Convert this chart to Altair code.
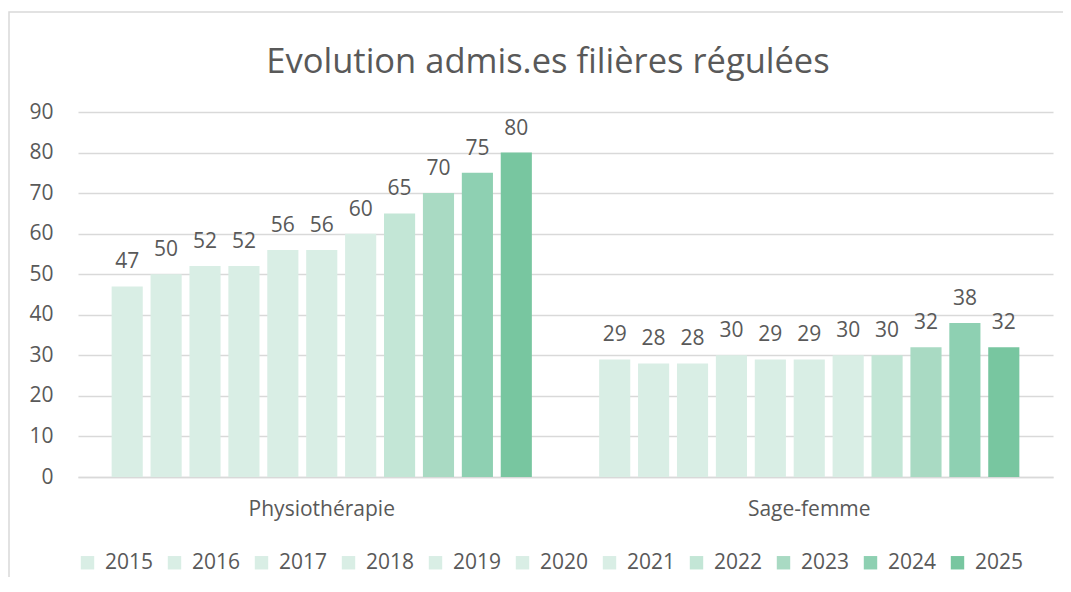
import altair as alt
import pandas as pd

title_text = "Evolution admis.es filières régulées"
categories = ["Physiothérapie", "Sage-femme"]
years = ["2015", "2016", "2017", "2018", "2019", "2020", "2021", "2022", "2023", "2024", "2025"]
physio = [47, 50, 52, 52, 56, 56, 60, 65, 70, 75, 80]
sage = [29, 28, 28, 30, 29, 29, 30, 30, 32, 38, 32]
colors = ["#D9EEE5", "#D9EEE5", "#D9EEE5", "#D9EEE5", "#D9EEE5", "#D9EEE5", "#D9EEE5",
          "#C3E6D6", "#A9DAC3", "#8ED0B2", "#78C6A0"]
y_ticks = [0, 10, 20, 30, 40, 50, 60, 70, 80, 90]

rows = []
for cat, vals in zip(categories, [physio, sage]):
    for yr, v in zip(years, vals):
        rows.append({"filiere": cat, "annee": yr, "admis": v})
df = pd.DataFrame(rows)

FONT = "Open Sans"
GRAY = "#595959"

x = alt.X("filiere:N", sort=categories, title=None,
          scale=alt.Scale(paddingInner=0.138, paddingOuter=0.069),
          axis=alt.Axis(labelAngle=0, ticks=False, domainColor="#D9D9D9", domainWidth=1.5,
                        labelFontSize=21, labelColor=GRAY, labelPadding=21, labelFont=FONT))
xo = alt.XOffset("annee:N", sort=years, scale=alt.Scale(paddingInner=0.2, paddingOuter=0))
y = alt.Y("admis:Q", title=None, scale=alt.Scale(domain=[0, 90]),
          axis=alt.Axis(values=y_ticks, domain=False, ticks=False, gridColor="#D9D9D9",
                        gridWidth=1.5, labelFontSize=21, labelColor=GRAY, labelPadding=25,
                        labelFont=FONT))
color = alt.Color("annee:N", sort=years, scale=alt.Scale(domain=years, range=colors),
                  legend=alt.Legend(title=None, orient="none", direction="horizontal",
                                    legendX=-1, legendY=440, columns=11,
                                    symbolType="square", symbolSize=180, symbolStrokeWidth=0,
                                    labelFontSize=21, labelColor=GRAY, labelFont=FONT,
                                    labelOffset=7, columnPadding=10))

bars = alt.Chart(df).mark_bar().encode(x=x, xOffset=xo, y=y, color=color)
labels = alt.Chart(df).mark_text(baseline="alphabetic", dy=-18, fontSize=21, color=GRAY,
                                 font=FONT).encode(x=x, xOffset=xo, y=y, text="admis:Q")

one = alt.Data(values=[{"t": title_text}])
frame = alt.Chart(one).mark_rect(
    fill=None, stroke="#D9D9D9", strokeWidth=1.5).encode(
    x=alt.value(-69), x2=alt.value(1100), y=alt.value(-100), y2=alt.value(600))
title = alt.Chart(one).mark_text(
    align="center", baseline="alphabetic", fontSize=34.5, font=FONT, color=GRAY).encode(
    x=alt.value(470), y=alt.value(-39), text="t:N")

chart = alt.layer(frame, title, bars, labels).properties(
    width=975, height=365,
    autosize=alt.AutoSizeParams(type="none"),
    padding={"left": 70, "top": 104, "right": 10, "bottom": 100},
).configure_view(stroke=None)

chart.save("out.html", embed_options={"renderer": "svg", "actions": False})
